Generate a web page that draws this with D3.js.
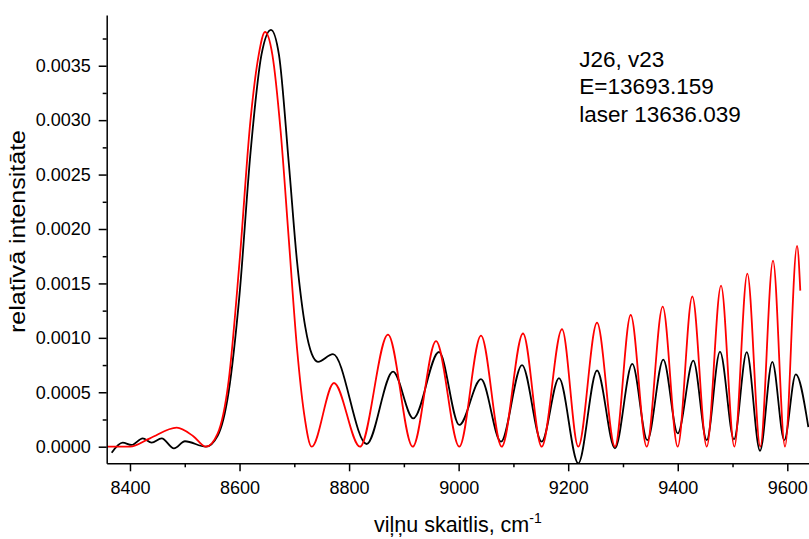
<!DOCTYPE html>
<html>
<head>
<meta charset="utf-8">
<script src="https://cdn.jsdelivr.net/npm/d3@7/dist/d3.min.js"></script>
<style>
  html, body { margin: 0; padding: 0; background: #fff; }
  svg text { font-family: Arial, "Liberation Sans", Helvetica, sans-serif; fill: #000; }
</style>
</head>
<body>
<svg id="chart" width="809" height="539"></svg>
<script>
// ---- data (wavenumber cm-1, relative intensity) ----
const redX = [8358, 8400, 8436.5, 8485.3, 8515.6, 8538.7,
  8560, 8580, 8600, 8620, 8635, 8646.5, 8660, 8675, 8690, 8705, 8718, 8731.7,
  8772.4, 8819.9, 8871, 8916.1, 8958.7, 9001.2, 9040.8, 9078.6, 9117.5, 9151.6,
  9188.7, 9218.4, 9252.6, 9285.4, 9314.1, 9343.3, 9372.5, 9399.9, 9426.6, 9452.9,
  9479, 9503.3, 9527, 9550.7, 9573.9, 9595.8, 9617.8, 9623.7];
const redY = [0, 0, 0.000077, 0.000175, 0.0000965, 0,
  0.00012, 0.0006, 0.0017, 0.0030, 0.0036, 0.00381, 0.0036, 0.0029, 0.0019, 0.0009, 0.0003, 0,
  0.000585, 0, 0.00103, 0, 0.00097, 0, 0.00102, 0, 0.00104, 0,
  0.00108, 0, 0.00114, 0, 0.00121, 0, 0.001287, 0, 0.00138, 0,
  0.00148, 0, 0.00159, 0, 0.00171, 0, 0.001845, 0.001434];

const blackX = [8366.6, 8386.7, 8403.1, 8423.2, 8439.6, 8457.9, 8480.3, 8500.4, 8538.7,
  8560, 8580, 8600, 8620, 8640, 8657.4, 8672, 8690, 8705, 8720, 8732, 8743.2,
  8770.6, 8832.1, 8880.2, 8917.2, 8964.1, 9001.2, 9040.8, 9077.3, 9115.7, 9151.6,
  9183.2, 9218.4, 9252.6, 9285.4, 9317, 9344.4, 9373.6, 9399.9, 9428.4, 9452.9,
  9477.1, 9502.7, 9525.9, 9550.2, 9572.6, 9594.5, 9615.4, 9638.4];
const blackY = [-0.000055, 0.000037, 0.000016, 0.000077, 0.000037, 0.000077, -0.000015, 0.00005, 0,
  0.0001, 0.0005, 0.0014, 0.0027, 0.0036, 0.00383, 0.0036, 0.0026, 0.0017, 0.0011, 0.00085, 0.00078,
  0.00085, 0.000025, 0.00069, 0.00026, 0.00087, 0.0002, 0.00062, 0.000046, 0.00075, 0.000046,
  0.00063, -0.000153, 0.0007, -0.000015, 0.00076, 0.00006, 0.0008, 0.000123, 0.00079, 0.00006,
  0.000873, 0.000068, 0.000868, -0.000037, 0.00078, 0.00006, 0.000665, 0.00018];

const xTicks = [8400, 8600, 8800, 9000, 9200, 9400, 9600];
const xMinor = [8500, 8700, 8900, 9100, 9300, 9500];
const yTicks = [0, 0.0005, 0.0010, 0.0015, 0.0020, 0.0025, 0.0030, 0.0035];
const yMinor = [0.00025, 0.00075, 0.00125, 0.00175, 0.00225, 0.00275, 0.00325, 0.00375];
const annotation = ["J26, v23", "E=13693.159", "laser 13636.039"];
const xTitle = "viļņu skaitlis, cm";
const xTitleSup = "-1";
const yTitle = "relatīvā intensitāte";

// ---- layout ----
const L = 106.7, R = 809, T = 15, B = 463.3;
const svg = d3.select("#chart");
const x = d3.scaleLinear().domain([8357.5, 9639.6]).range([L, R]);
const y = d3.scaleLinear().domain([-0.0001525, 0.003966]).range([B, T]);

svg.append("defs").append("clipPath").attr("id", "plotclip")
  .append("rect").attr("x", L).attr("y", T).attr("width", R - L).attr("height", B - T);

const line = d3.line().x(d => x(d[0])).y(d => y(d[1])).curve(d3.curveMonotoneX);
const g = svg.append("g").attr("clip-path", "url(#plotclip)");
g.append("path").datum(blackX.map((v, i) => [v, blackY[i]]))
  .attr("d", line).attr("fill", "none").attr("stroke", "#000").attr("stroke-width", 1.8);
g.append("path").datum(redX.map((v, i) => [v, redY[i]]))
  .attr("d", line).attr("fill", "none").attr("stroke", "#ff0000").attr("stroke-width", 1.8);

// axes
const fmt = d3.format(".4f");
const xAxis = svg.append("g").attr("transform", `translate(0,${B})`)
  .call(d3.axisBottom(x).tickValues(xTicks).tickSize(8).tickSizeOuter(0).tickPadding(10).tickFormat(d3.format("d")));
svg.append("g").attr("transform", `translate(0,${B})`)
  .call(d3.axisBottom(x).tickValues(xMinor).tickSize(4).tickSizeOuter(0).tickFormat(""))
  .select(".domain").remove();
const yAxis = svg.append("g").attr("transform", `translate(${L},0)`)
  .call(d3.axisLeft(y).tickValues(yTicks).tickSize(8).tickSizeOuter(0).tickPadding(8).tickFormat(fmt));
svg.append("g").attr("transform", `translate(${L},0)`)
  .call(d3.axisLeft(y).tickValues(yMinor).tickSize(4).tickSizeOuter(0).tickFormat(""))
  .select(".domain").remove();

svg.selectAll(".domain, .tick line").attr("stroke", "#000").attr("stroke-width", 1.5);
xAxis.selectAll("text").attr("font-size", 18).attr("font-family", "Arial, 'Liberation Sans', sans-serif").attr("fill", "#000");
yAxis.selectAll("text").attr("font-size", 18).attr("font-family", "Arial, 'Liberation Sans', sans-serif").attr("fill", "#000");

// titles
const xt = svg.append("text").attr("x", (L + R) / 2).attr("y", 532)
  .attr("text-anchor", "middle").attr("font-size", 21.5);
xt.append("tspan").text(xTitle);
xt.append("tspan").attr("dy", -9).attr("font-size", 14).text(xTitleSup);

svg.append("text").attr("transform", `translate(25,${(130 + 333) / 2}) rotate(-90)`)
  .attr("text-anchor", "middle").attr("font-size", 22.3)
  .attr("textLength", 203).attr("lengthAdjust", "spacingAndGlyphs")
  .text(yTitle);

// annotation
svg.append("g").selectAll("text").data(annotation).join("text")
  .attr("x", 579.3).attr("y", (d, i) => 66.7 + i * 27.5)
  .attr("font-size", 22.5).text(d => d);
</script>
</body>
</html>
